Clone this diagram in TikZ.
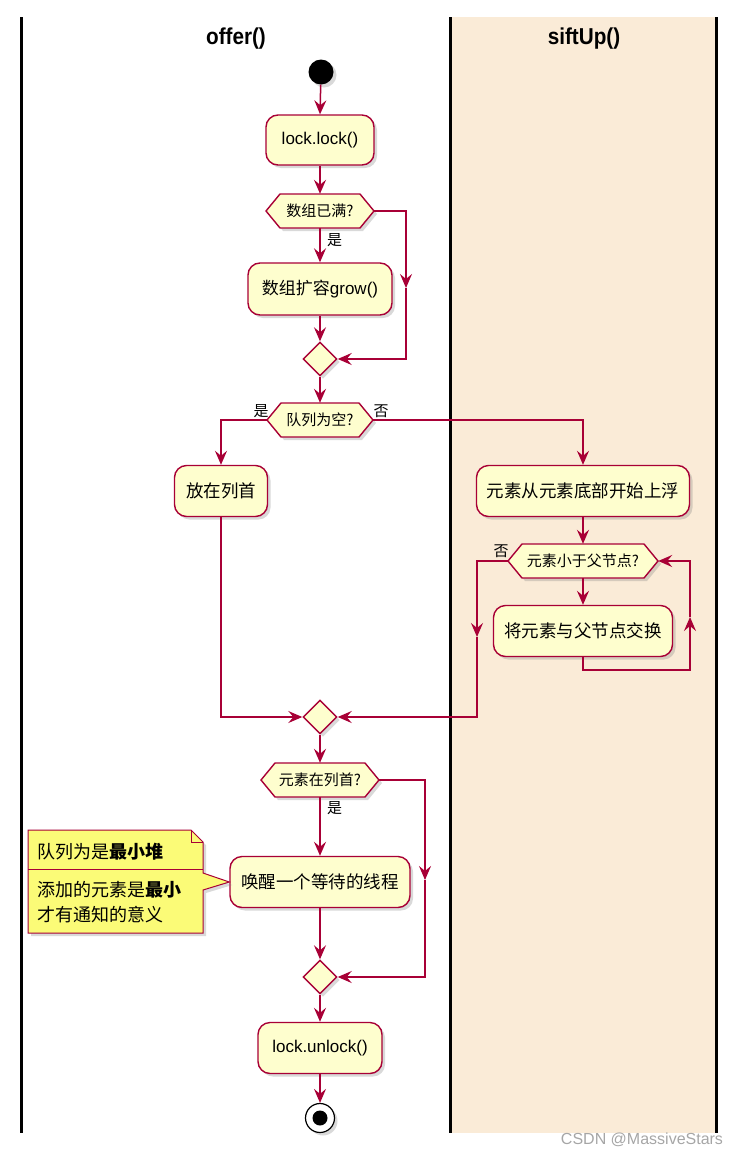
\documentclass[tikz,border=0pt]{standalone}
\usepackage{fontspec}
\setmainfont{Liberation Sans}
\newfontfamily\cjk{Noto Sans CJK SC}
\usetikzlibrary{shapes.geometric,arrows.meta,shadows,calc}
\definecolor{crim}{HTML}{A80036}
\definecolor{actfill}{HTML}{FEFECE}
\definecolor{notefill}{HTML}{FBFB77}
\definecolor{lanefill}{HTML}{FAEBD7}
\tikzset{
 shd/.style={drop shadow={opacity=0.3, shadow xshift=3pt, shadow yshift=-3pt}},
 act/.style={draw=crim, fill=actfill, line width=1.4pt, rounded corners=12pt, inner sep=0pt, font=\fontsize{17}{20}\selectfont, shd},
 actcjk/.style={act, font=\cjk\fontsize{17.5}{20}\selectfont},
 dectext/.style={inner sep=0pt, font=\cjk\fontsize{15}{18}\selectfont},
 hexshape/.style={draw=crim, fill=actfill, line width=1.4pt, line join=miter, shd},
 merge/.style={diamond, draw=crim, fill=actfill, line width=1.4pt, minimum width=34, minimum height=34, inner sep=0pt, shd},
 flow/.style={draw=crim, line width=1.5pt, -{Stealth[length=14pt,width=12pt,inset=5pt]}},
 lbl/.style={font=\cjk\fontsize{15}{18}\selectfont, inner sep=0pt},
 lane/.style={line width=3pt, black},
 title/.style={font=\fontsize{23}{26}\selectfont, inner sep=0pt},
 notetext/.style={font=\cjk\fontsize{18}{21}\selectfont, inner sep=0pt, anchor=west},
 noteline/.style={draw=crim, line width=1pt},
}
\newcommand\hexdec[5]{%
  \path[hexshape] (#2-#4,#3) -- (#2-#4+14,#3-17) -- (#2+#4-14,#3-17) -- (#2+#4,#3) -- (#2+#4-14,#3+17) -- (#2-#4+14,#3+17) -- cycle;
  \node[dectext, minimum width=2*#4, minimum height=34] (#1) at (#2,#3) {#5};}
\begin{document}
\begin{tikzpicture}[x=1pt,y=-1pt]
\useasboundingbox (0,0) rectangle (742,1154);
% lanes
\fill[lanefill] (450,17) rectangle (716,1133);
\draw[lane] (21,17) -- (21,1133);
\draw[lane] (450,17) -- (450,1133);
\draw[lane] (716,17) -- (716,1133);
\node[title] (toffer) at (236,39) {\scalebox{0.9}[1]{\bfseries offer()}};
\node[title] (tsift) at (584,39) {\scalebox{0.9}[1]{\bfseries siftUp()}};
% nodes
\node[circle, fill=black, minimum size=25, inner sep=0pt, shd] (init) at (321,72) {};
\node[act, minimum width=108, minimum height=50] (lock) at (320,140) {lock.lock()};
\hexdec{d1}{320}{211}{54}{数组已满?}
\node[act, minimum width=144, minimum height=52] (grow) at (320,289) {{\cjk 数组扩容}grow()};
\node[merge] (m1) at (320,359) {};
\hexdec{d2}{320}{420}{53}{队列为空?}
\node[actcjk, minimum width=93, minimum height=51] (p1) at (221,491) {放在列首};
\node[actcjk, minimum width=213, minimum height=51] (s1) at (583,491) {元素从元素底部开始上浮};
\hexdec{d3}{583}{561}{75}{元素小于父节点?}
\node[actcjk, minimum width=179, minimum height=51] (sw) at (583,631) {将元素与父节点交换};
\node[merge] (m2) at (320,717) {};
\hexdec{d4}{320}{780}{59}{元素在列首?}
\node[actcjk, minimum width=180, minimum height=51] (wake) at (320,882) {唤醒一个等待的线程};
\node[merge] (m3) at (320,977) {};
\node[act, minimum width=124, minimum height=51] (unlock) at (320,1048) {lock.unlock()};
\node[circle, draw=black, fill=white, line width=1.2pt, minimum size=29, inner sep=0pt, shd] (stop) at (320,1118) {};
\node[circle, fill=black, minimum size=15, inner sep=0pt] (stopdot) at (stop) {};
% connectors
\draw[flow] (init) -- (lock.north);
\draw[flow] (lock.south) -- (d1.north);
\draw[flow] (d1.south) -- (grow.north);
\node[lbl, anchor=west] (y1) at (327,240) {是};
\coordinate (t1) at (406,288);
\draw[flow] (d1.east) -| (t1);
\draw[flow] (t1) |- (m1.east);
\draw[flow] (grow.south) -- (m1.north);
\draw[flow] (m1.south) -- (d2.north);
\draw[flow] (d2.west) -| (p1.north);
\draw[flow] (d2.east) -| (s1.north);
\node[lbl] (y2) at (261,411) {是};
\node[lbl] (n2) at (381,411) {否};
\draw[flow] (s1.south) -- (d3.north);
\draw[flow] (d3.south) -- (sw.north);
\coordinate (b2) at (690,670);
\coordinate (t2) at (690,617);
\draw[flow] (sw.south) -- (sw.south |- b2) -| (t2);
\draw[flow] (t2) |- (d3.east);
\node[lbl] (n3) at (501,551) {否};
\coordinate (t3) at (477,637);
\draw[flow] (d3.west) -| (t3);
\draw[flow] (t3) |- (m2.east);
\draw[flow] (p1.south) |- (m2.west);
\draw[flow] (m2.south) -- (d4.north);
\draw[flow] (d4.south) -- (wake.north);
\node[lbl, anchor=west] (y4) at (327,808) {是};
\coordinate (t4) at (425,880);
\draw[flow] (d4.east) -| (t4);
\draw[flow] (t4) |- (m3.east);
\draw[flow] (wake.south) -- (m3.north);
\draw[flow] (m3.south) -- (unlock.north);
\draw[flow] (unlock.south) -- (stop);
% note
\path[noteline, fill=notefill, shd] (28,830) -- (191,830) -- (203,842) -- (203,873) -- (wake.west) -- (203,890) -- (203,933) -- (28,933) -- cycle;
\draw[noteline] (191,830) -- (191,842) -- (203,842);
\draw[noteline] (28,869) -- (203,869);
\node[notetext] (nt1) at (37,852) {队列为是\textbf{最小堆}};
\node[notetext] (nt2) at (37,890) {添加的元素是\textbf{最小}};
\node[notetext] (nt3) at (37,915) {才有通知的意义};
% watermark
\node[font=\fontsize{16}{18}\selectfont, text=black!35, inner sep=0pt] (wm) at (642,1140) {CSDN @MassiveStars};
\end{tikzpicture}
\end{document}
